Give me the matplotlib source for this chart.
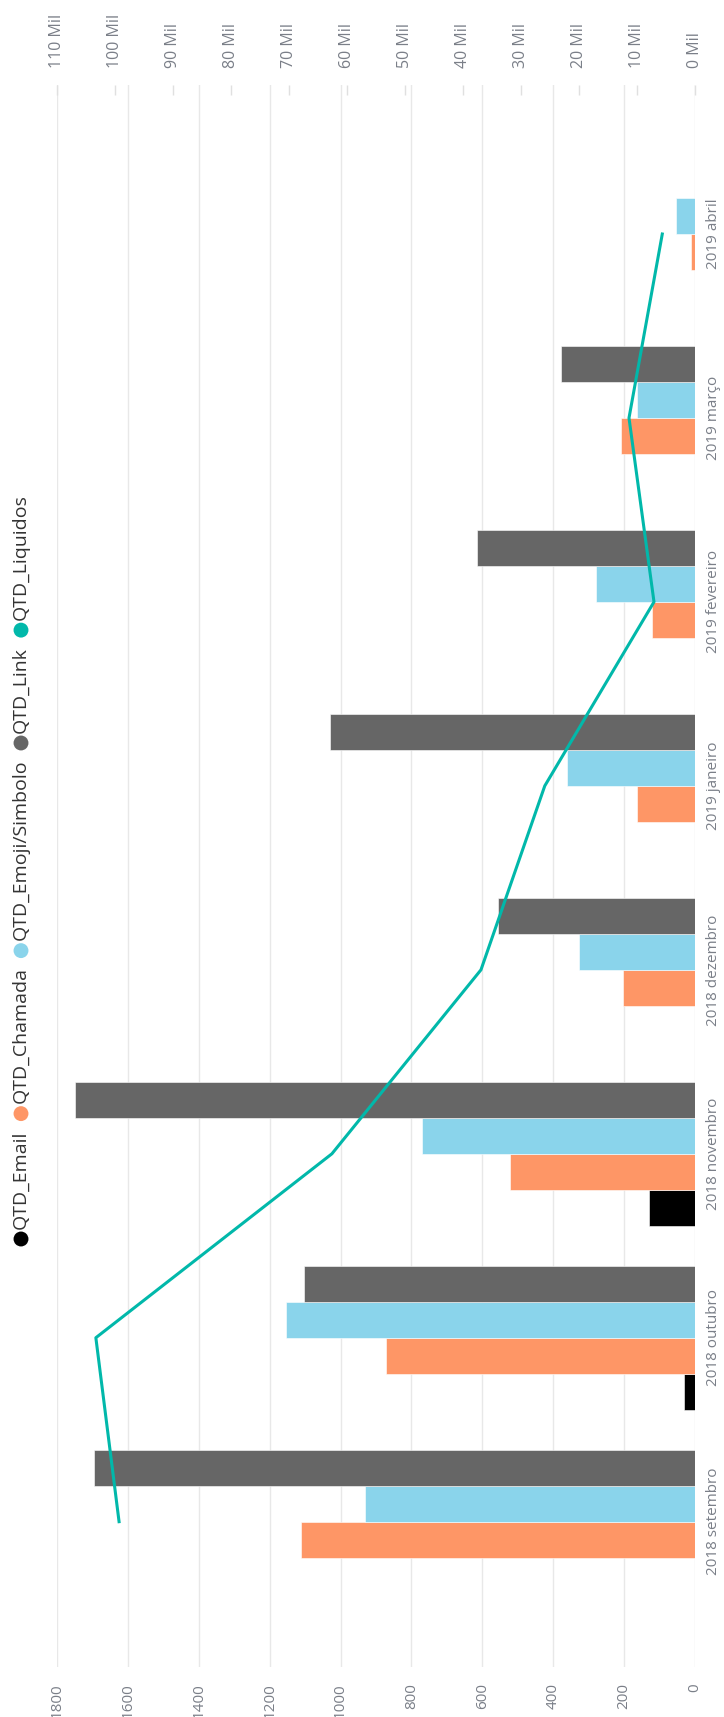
import matplotlib
matplotlib.use("Agg")
import matplotlib.pyplot as plt
import numpy as np

plt.rcParams['font.family'] = ['Open Sans', 'DejaVu Sans']

# dados
meses = ['2018 setembro', '2018 outubro', '2018 novembro', '2018 dezembro',
         '2019 janeiro', '2019 fevereiro', '2019 março', '2019 abril']
qtd_email = [0, 30, 131, 0, 0, 0, 0, 0]
qtd_chamada = [1113, 873, 521, 204, 164, 120, 210, 12]
qtd_emoji = [932, 1154, 771, 328, 360, 279, 163, 54]
qtd_link = [1697, 1103, 1748, 555, 1031, 616, 378, 0]
qtd_liquidos = [99300, 103300, 62600, 36900, 25900, 7070, 11380, 5640]

nomes = ['QTD_Email', 'QTD_Chamada', 'QTD_Emoji/Simbolo', 'QTD_Link', 'QTD_Liquidos']
cores = ['#000000', '#FE9666', '#8AD4EB', '#666666', '#01B8AA']

eixo1_ticks = list(range(0, 1801, 200))
eixo2_ticks = list(range(0, 110001, 10000))

W, H = 724, 1717
fig = plt.figure(figsize=(W / 100, H / 100), dpi=100)

# area do grafico em pixels (grafico girado 90 graus)
L, R, T, B = 57, 695, 85, 1667
ax = fig.add_axes([L / W, 1 - B / H, (R - L) / W, (B - T) / H])

y = np.arange(len(meses))
h = 36 / 184
for k, vals in enumerate([qtd_email, qtd_chamada, qtd_emoji, qtd_link]):
    ax.barh(y + (k - 1.5) * h, vals, height=h, color=cores[k], zorder=2,
            edgecolor='white', linewidth=0.4)

ax.set_xlim(1800, 0)
ax.set_ylim(-0.79, 7.81)
ax.set_xticks(eixo1_ticks)
ax.set_xticklabels([str(v) for v in eixo1_ticks], rotation=90)
ax.grid(axis='x', color='#E8E8E8', lw=1)
ax.grid(axis='y', visible=False)
ax.set_axisbelow(True)
for s in ax.spines.values():
    s.set_visible(False)
ax.tick_params(axis='x', length=0, pad=11.5, labelsize=11, labelcolor='#7A7F88')
ax.yaxis.tick_right()
ax.set_yticks(y)
ax.set_yticklabels(meses, rotation=90, va='center')
ax.tick_params(axis='y', length=0, pad=8, labelsize=11, labelcolor='#7A7F88')

# eixo secundario da linha
ax2 = ax.twiny()
ax2.plot(qtd_liquidos, y, color=cores[4], lw=2.2, zorder=3)
ax2.set_xlim(110000, 0)
ax2.set_xticks(eixo2_ticks)
ax2.set_xticklabels([f'{v // 1000} Mil' for v in eixo2_ticks], rotation=90)
ax2.tick_params(axis='x', direction='in', length=7.2, width=1, color='#E0E0E0',
                pad=12, labelsize=11.5, labelcolor='#7A7F88')
for s in ax2.spines.values():
    s.set_visible(False)

# legenda manual (vertical)
lax = fig.add_axes([0, 0, 1, 1])
lax.set_xlim(0, W)
lax.set_ylim(H, 0)
lax.axis('off')
fig.canvas.draw()
rend = fig.canvas.get_renderer()
yy = 1239
for nome, cor in zip(nomes, cores):
    lax.scatter([21], [yy], s=115, color=cor, edgecolors='none')
    yy -= 7.5 + 3
    t = lax.text(21, yy, nome, rotation=90, ha='center', va='bottom',
                 fontsize=14, color='#333333')
    comp = t.get_window_extent(renderer=rend).height
    yy -= comp + 9 + 7.5

fig.savefig('out.png', dpi=100)
